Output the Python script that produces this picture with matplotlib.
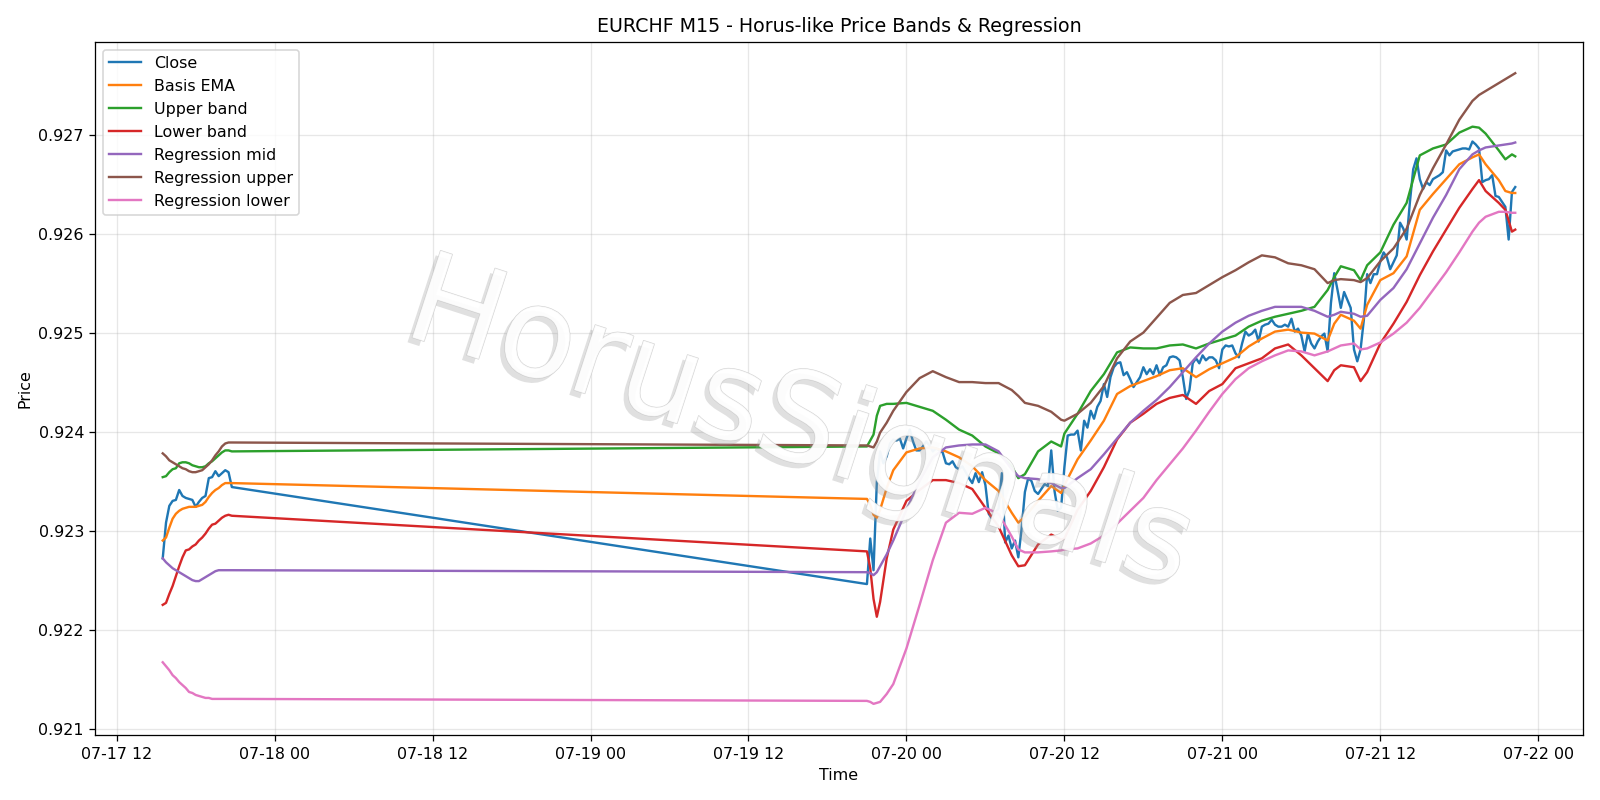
import matplotlib
matplotlib.use("Agg")
import matplotlib.pyplot as plt
import matplotlib.patheffects as pe
import pandas as pd

# --- data: two trading sessions of EURCHF M15 bars ---
start_a = "2025-07-17 15:30"
start_b = "2025-07-19 21:00"

close_a = [0.92272, 0.92308, 0.92325, 0.92330, 0.92331, 0.92341, 0.92335, 0.92333,
           0.92332, 0.92331, 0.92324, 0.92329, 0.92333, 0.92335, 0.92353, 0.92354,
           0.92360, 0.92355, 0.92358, 0.92361, 0.92359, 0.92344]

ema_a = [0.92290, 0.92293, 0.92303, 0.92312, 0.92317, 0.92320, 0.92322, 0.92323,
         0.92324, 0.92324, 0.92324, 0.92325, 0.92326, 0.92329, 0.92334, 0.92338,
         0.92341, 0.92343, 0.92346, 0.92348, 0.92348, 0.92348]
upper_a = [0.92354, 0.92355, 0.92359, 0.92362, 0.92363, 0.92368, 0.92369, 0.92369,
           0.92368, 0.92366, 0.92365, 0.92364, 0.92364, 0.92365, 0.92368, 0.92370,
           0.92373, 0.92376, 0.92379, 0.92381, 0.92381, 0.92380]
lower_a = [0.92225, 0.92227, 0.92236, 0.92244, 0.92254, 0.92264, 0.92273, 0.92280,
           0.92281, 0.92284, 0.92286, 0.92290, 0.92293, 0.92297, 0.92302, 0.92306,
           0.92307, 0.92310, 0.92313, 0.92315, 0.92316, 0.92315]
reg_mid_a = [0.92272, 0.92268, 0.92265, 0.92262, 0.92260, 0.92258, 0.92256, 0.92254,
             0.92252, 0.92250, 0.92249, 0.92249, 0.92251, 0.92253, 0.92255, 0.92257,
             0.92259, 0.92260, 0.92260, 0.92260, 0.92260, 0.92260]
reg_up_a = [0.92378, 0.92375, 0.92371, 0.92369, 0.92367, 0.92365, 0.92363, 0.92362,
            0.92360, 0.92359, 0.92359, 0.92360, 0.92361, 0.92364, 0.92367, 0.92371,
            0.92376, 0.92380, 0.92385, 0.92388, 0.92389, 0.92389]
reg_lo_a = [0.92167, 0.92163, 0.92159, 0.92154, 0.92151, 0.92147, 0.92144, 0.92141,
            0.92137, 0.92136, 0.92134, 0.92133, 0.92132, 0.92131, 0.92131, 0.92130,
            0.92130, 0.92130, 0.92130, 0.92130, 0.92130, 0.92130]

close_b = [
    0.92246, 0.92292, 0.92260, 0.92349, 0.92380, 0.92368, 0.92375, 0.92388, 0.92392, 0.92391,
    0.92393, 0.92383, 0.92393, 0.92402, 0.92390, 0.92381, 0.92381, 0.92385, 0.92390, 0.92386,
    0.92380, 0.92383, 0.92381, 0.92379, 0.92368, 0.92367, 0.92370, 0.92364, 0.92362, 0.92365,
    0.92359, 0.92353, 0.92348, 0.92358, 0.92349, 0.92359, 0.92346, 0.92317, 0.92312, 0.92319,
    0.92322, 0.92358, 0.92288, 0.92295, 0.92282, 0.92290, 0.92273, 0.92302, 0.92339, 0.92353,
    0.92350, 0.92340, 0.92337, 0.92342, 0.92347, 0.92345, 0.92381, 0.92340, 0.92320, 0.92323,
    0.92364, 0.92396, 0.92397, 0.92397, 0.92401, 0.92381, 0.92411, 0.92404, 0.92421, 0.92413,
    0.92425, 0.92431, 0.92448, 0.92435, 0.92455, 0.92465, 0.92469, 0.92470, 0.92457, 0.92460,
    0.92453, 0.92445, 0.92450, 0.92455, 0.92465, 0.92458, 0.92463, 0.92458, 0.92467, 0.92457,
    0.92465, 0.92467, 0.92475, 0.92476, 0.92475, 0.92472, 0.92455, 0.92433, 0.92442, 0.92469,
    0.92474, 0.92469, 0.92477, 0.92472, 0.92475, 0.92475, 0.92472, 0.92464, 0.92483, 0.92487,
    0.92486, 0.92487, 0.92479, 0.92475, 0.92489, 0.92501, 0.92497, 0.92499, 0.92503, 0.92491,
    0.92506, 0.92508, 0.92509, 0.92513, 0.92508, 0.92506, 0.92506, 0.92508, 0.92506, 0.92514,
    0.92501, 0.92504, 0.92497, 0.92481, 0.92499, 0.92489, 0.92484, 0.92491, 0.92496, 0.92499,
    0.92481, 0.92530, 0.92560, 0.92543, 0.92525, 0.92541, 0.92533, 0.92525, 0.92483, 0.92471,
    0.92483, 0.92513, 0.92559, 0.92550, 0.92559, 0.92559, 0.92572, 0.92581, 0.92576, 0.92564,
    0.92571, 0.92578, 0.92611, 0.92605, 0.92594, 0.92632, 0.92665, 0.92676, 0.92655, 0.92645,
    0.92652, 0.92649, 0.92655, 0.92657, 0.92659, 0.92662, 0.92684, 0.92679, 0.92683, 0.92684,
    0.92685, 0.92686, 0.92686, 0.92685, 0.92693, 0.92690, 0.92686, 0.92652, 0.92654, 0.92655,
    0.92659, 0.92638, 0.92637, 0.92632, 0.92627, 0.92594, 0.92642, 0.92647,
]

# bar numbers (within session B) at which the smooth indicator lines were read
ind_bars_b = [0, 1, 2, 3, 4, 6, 8, 12, 16, 20,
              24, 28, 32, 36, 40, 44, 46, 48, 52, 56,
              59, 60, 64, 68, 72, 76, 80, 84, 88, 92,
              96, 100, 104, 108, 112, 116, 120, 124, 128, 132,
              136, 140, 142, 144, 148, 150, 152, 156, 160, 164,
              168, 172, 176, 180, 184, 186, 188, 192, 194, 196, 197]

ema_b = [0.92332, 0.92326, 0.92316, 0.92313, 0.92321, 0.92343, 0.92361, 0.92379, 0.92383, 0.92384,
         0.92380, 0.92374, 0.92365, 0.92351, 0.92340, 0.92318, 0.92308, 0.92314, 0.92330, 0.92345,
         0.92338, 0.92346, 0.92372, 0.92391, 0.92411, 0.92438, 0.92446, 0.92451, 0.92456, 0.92462,
         0.92464, 0.92455, 0.92463, 0.92469, 0.92475, 0.92486, 0.92494, 0.92501, 0.92503, 0.92500,
         0.92499, 0.92492, 0.92509, 0.92518, 0.92512, 0.92504, 0.92528, 0.92553, 0.92560, 0.92577,
         0.92624, 0.92640, 0.92655, 0.92670, 0.92677, 0.92680, 0.92670, 0.92654, 0.92643, 0.92641, 0.92641]
upper_b = [0.92385, 0.92391, 0.92397, 0.92416, 0.92426, 0.92428, 0.92428, 0.92429, 0.92425, 0.92421,
           0.92412, 0.92402, 0.92396, 0.92385, 0.92378, 0.92365, 0.92353, 0.92357, 0.92380, 0.92390,
           0.92385, 0.92398, 0.92418, 0.92441, 0.92458, 0.92480, 0.92485, 0.92484, 0.92484, 0.92487,
           0.92488, 0.92484, 0.92489, 0.92493, 0.92497, 0.92506, 0.92512, 0.92516, 0.92519, 0.92522,
           0.92526, 0.92543, 0.92556, 0.92567, 0.92563, 0.92553, 0.92568, 0.92581, 0.92609, 0.92631,
           0.92679, 0.92686, 0.92690, 0.92702, 0.92708, 0.92707, 0.92701, 0.92684, 0.92675, 0.92680, 0.92678]
lower_b = [0.92279, 0.92262, 0.92231, 0.92213, 0.92228, 0.92272, 0.92301, 0.92330, 0.92341, 0.92351,
           0.92351, 0.92348, 0.92342, 0.92323, 0.92304, 0.92275, 0.92264, 0.92265, 0.92286, 0.92296,
           0.92291, 0.92292, 0.92321, 0.92340, 0.92364, 0.92392, 0.92409, 0.92418, 0.92428, 0.92434,
           0.92437, 0.92428, 0.92441, 0.92448, 0.92464, 0.92469, 0.92474, 0.92484, 0.92488, 0.92477,
           0.92464, 0.92451, 0.92462, 0.92467, 0.92465, 0.92451, 0.92460, 0.92489, 0.92509, 0.92531,
           0.92558, 0.92582, 0.92604, 0.92626, 0.92645, 0.92654, 0.92643, 0.92631, 0.92624, 0.92602, 0.92604]
reg_mid_b = [0.92258, 0.92257, 0.92255, 0.92258, 0.92264, 0.92276, 0.92290, 0.92321, 0.92350, 0.92374,
             0.92384, 0.92386, 0.92387, 0.92387, 0.92380, 0.92362, 0.92355, 0.92353, 0.92352, 0.92348,
             0.92343, 0.92343, 0.92353, 0.92362, 0.92377, 0.92393, 0.92409, 0.92421, 0.92432, 0.92445,
             0.92460, 0.92475, 0.92489, 0.92501, 0.92510, 0.92517, 0.92522, 0.92526, 0.92526, 0.92526,
             0.92522, 0.92516, 0.92518, 0.92521, 0.92519, 0.92516, 0.92517, 0.92533, 0.92545, 0.92564,
             0.92590, 0.92616, 0.92639, 0.92665, 0.92680, 0.92684, 0.92687, 0.92689, 0.92690, 0.92691, 0.92692]
reg_up_b = [0.92386, 0.92385, 0.92384, 0.92390, 0.92399, 0.92409, 0.92421, 0.92440, 0.92454, 0.92461,
            0.92455, 0.92450, 0.92450, 0.92449, 0.92449, 0.92442, 0.92436, 0.92429, 0.92426, 0.92420,
            0.92412, 0.92411, 0.92418, 0.92429, 0.92446, 0.92474, 0.92491, 0.92500, 0.92515, 0.92530,
            0.92538, 0.92540, 0.92548, 0.92556, 0.92563, 0.92571, 0.92578, 0.92576, 0.92570, 0.92568,
            0.92564, 0.92550, 0.92553, 0.92554, 0.92553, 0.92551, 0.92555, 0.92572, 0.92585, 0.92605,
            0.92639, 0.92666, 0.92690, 0.92715, 0.92734, 0.92740, 0.92744, 0.92752, 0.92756, 0.92760, 0.92762]
reg_lo_b = [0.92128, 0.92127, 0.92125, 0.92126, 0.92127, 0.92135, 0.92145, 0.92181, 0.92225, 0.92270,
            0.92308, 0.92318, 0.92317, 0.92323, 0.92317, 0.92294, 0.92281, 0.92278, 0.92278, 0.92279,
            0.92280, 0.92281, 0.92282, 0.92287, 0.92295, 0.92307, 0.92320, 0.92333, 0.92351, 0.92367,
            0.92383, 0.92401, 0.92420, 0.92438, 0.92453, 0.92464, 0.92471, 0.92477, 0.92482, 0.92481,
            0.92477, 0.92481, 0.92484, 0.92487, 0.92489, 0.92483, 0.92484, 0.92490, 0.92499, 0.92510,
            0.92525, 0.92543, 0.92561, 0.92581, 0.92602, 0.92611, 0.92617, 0.92622, 0.92622, 0.92621, 0.92621]

# --- time axes ---
t_a = pd.date_range(start_a, periods=len(close_a), freq="15min")
t_b = pd.date_range(start_b, periods=len(close_b), freq="15min")
t_b_ind = t_b[ind_bars_b]
t_close = t_a.append(t_b)
t_ind = t_a.append(t_b_ind)

series = [
    ("Close", t_close, close_a + close_b),
    ("Basis EMA", t_ind, ema_a + ema_b),
    ("Upper band", t_ind, upper_a + upper_b),
    ("Lower band", t_ind, lower_a + lower_b),
    ("Regression mid", t_ind, reg_mid_a + reg_mid_b),
    ("Regression upper", t_ind, reg_up_a + reg_up_b),
    ("Regression lower", t_ind, reg_lo_a + reg_lo_b),
]

fig, ax = plt.subplots(figsize=(14, 7), dpi=1600 / 14)
for label, t, y in series:
    ax.plot(t, y, label=label)

ax.set_title("EURCHF M15 - Horus-like Price Bands & Regression")
ax.set_xlabel("Time")
ax.set_ylabel("Price")
ax.grid(True, alpha=0.3)
ax.legend(loc="upper left")

# watermark
fig.text(0.5, 0.466, "HorusSignals", fontsize=79, rotation=-18,
         ha="center", va="center", color="white", alpha=0.75, zorder=10,
         path_effects=[pe.SimplePatchShadow(offset=(-3, -3), shadow_rgbFace="#999999", alpha=0.3),
                       pe.Stroke(linewidth=0.7, foreground="#c4c4c4"),
                       pe.Normal()])

fig.tight_layout()
fig.savefig("out.png")
